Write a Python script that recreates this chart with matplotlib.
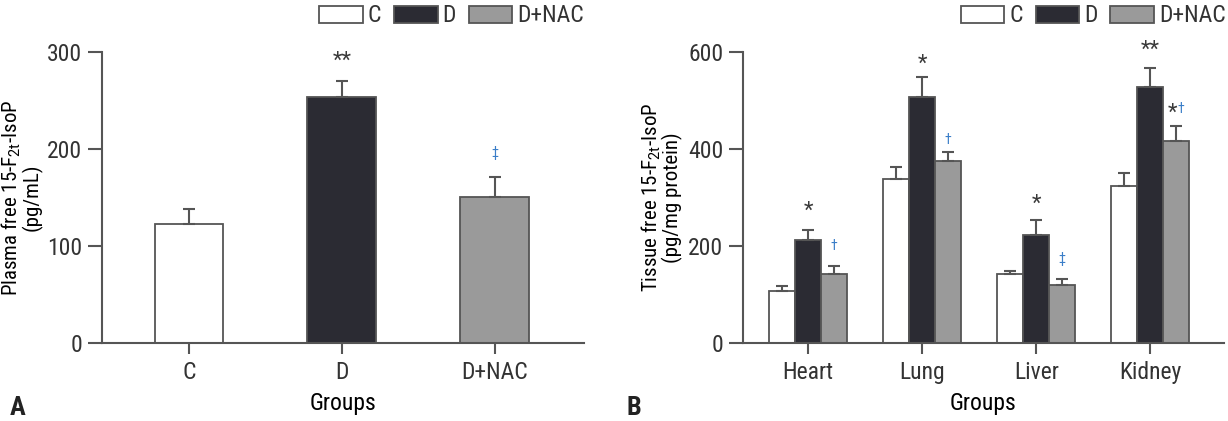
import matplotlib
matplotlib.use("Agg")
import matplotlib.pyplot as plt
from matplotlib.patches import Patch
import numpy as np

FONTS = ['Roboto Condensed', 'Liberation Sans Narrow', 'Open Sans Condensed', 'Roboto', 'DejaVu Sans']
plt.rcParams['font.family'] = FONTS
plt.rcParams['font.stretch'] = 'condensed'
plt.rcParams['mathtext.fontset'] = 'custom'
plt.rcParams['mathtext.rm'] = 'Roboto'
plt.rcParams['mathtext.it'] = 'Roboto'
plt.rcParams['text.color'] = '#333333'

# ---- data ----
series = ['C', 'D', 'D+NAC']
colors = ['#ffffff', '#2b2b33', '#9a9a9a']

plasma_groups = ['C', 'D', 'D+NAC']
plasma_mean = [122, 254, 150]
plasma_err = [16, 16, 21]

tissues = ['Heart', 'Lung', 'Liver', 'Kidney']
tissue_C = [107, 338, 141, 323]
tissue_C_err = [11, 25, 8, 27]
tissue_D = [213, 507, 223, 527]
tissue_D_err = [19, 41, 31, 39]
tissue_NAC = [142, 375, 119, 417]
tissue_NAC_err = [16, 19, 12, 30]

# annotations: (group index, text, color, y) / (group, series, text, color, y)
plasma_marks = [(1, '**', 'k', 290), (2, '\u2021', 'b', 196)]
tissue_marks = [
    (0, 1, '*', 'k', 272), (0, 2, '\u2020', 'b', 199),
    (1, 1, '*', 'k', 574), (1, 2, '\u2020', 'b', 419),
    (2, 1, '*', 'k', 286), (2, 2, '\u2021', 'b', 172),
    (3, 1, '**', 'k', 604), (3, 2, '*\u2020', 'kb', 474),
]

EDGE = '#555555'
BLUE = '#3b7ec8'
DARK = '#3a3a3a'
TICKFS = 17
LABFS = 15

W, H = 1228, 421
fig = plt.figure(figsize=(W / 100, H / 100), dpi=100)

def style_axes(ax, ymax, yticks):
    for s in ['top', 'right']:
        ax.spines[s].set_visible(False)
    for s in ['left', 'bottom']:
        ax.spines[s].set_color(EDGE)
        ax.spines[s].set_linewidth(1.5)
    ax.set_ylim(0, ymax)
    ax.set_yticks(yticks)
    ax.tick_params(axis='y', length=10, width=1.5, color=EDGE, labelsize=TICKFS,
                   labelcolor='#333333', pad=4)
    ax.tick_params(axis='x', length=8, width=1.5, color=EDGE, labelsize=TICKFS,
                   labelcolor='#333333', pad=5)
    ax.set_xlabel('Groups', fontsize=TICKFS, labelpad=6)

# ---- panel A ----
axA = fig.add_axes([101.7 / W, 78.3 / H, (584 - 101.7) / W, (369 - 78.3) / H])
xA = np.arange(len(plasma_groups))
axA.bar(xA, plasma_mean, width=0.45, color=colors, edgecolor=EDGE, linewidth=1.3,
        yerr=[np.zeros(len(xA)), plasma_err], capsize=4,
        error_kw=dict(ecolor=EDGE, elinewidth=1.5, capthick=1.5), zorder=2)
axA.set_xlim(-0.571, 2.584)
axA.set_xticks(xA)
axA.set_xticklabels(plasma_groups)
style_axes(axA, 300, [0, 100, 200, 300])
axA.set_ylabel('Plasma free 15-F$_{\\mathrm{2t}}$-IsoP\n(pg/mL)', fontsize=LABFS,
               linespacing=0.95)
axA.yaxis.set_label_coords(-0.122, 0.5)
for gi, txt, c, y in plasma_marks:
    axA.text(xA[gi], y, txt, ha='center', va='center',
             color=DARK if c == 'k' else BLUE,
             fontsize=16 if c == 'k' else 10, clip_on=False)

# ---- panel B ----
axB = fig.add_axes([742.7 / W, 78.3 / H, (1224 - 742.7) / W, (369 - 78.3) / H])
xB = np.arange(len(tissues))
bw = 0.228
vals = [tissue_C, tissue_D, tissue_NAC]
errs = [tissue_C_err, tissue_D_err, tissue_NAC_err]
for i in range(3):
    axB.bar(xB + (i - 1) * bw, vals[i], width=bw, color=colors[i], edgecolor=EDGE,
            linewidth=1.3, yerr=[np.zeros(len(xB)), errs[i]], capsize=4,
            error_kw=dict(ecolor=EDGE, elinewidth=1.5, capthick=1.5), zorder=2)
axB.set_xlim(-0.575, 3.646)
axB.set_xticks(xB)
axB.set_xticklabels(tissues)
style_axes(axB, 600, [0, 200, 400, 600])
axB.set_ylabel('Tissue free 15-F$_{\\mathrm{2t}}$-IsoP\n(pg/mg protein)', fontsize=LABFS,
               linespacing=0.95)
axB.yaxis.set_label_coords(-0.124, 0.5)
for gi, si, txt, c, y in tissue_marks:
    x = xB[gi] + (si - 1) * bw
    if c == 'kb':
        axB.text(x + 0.01, y, txt[0], ha='right', va='center', color=DARK,
                 fontsize=16, clip_on=False)
        axB.text(x + 0.01, y + 8, txt[1], ha='left', va='center', color=BLUE,
                 fontsize=10, clip_on=False)
    else:
        axB.text(x, y, txt, ha='center', va='center',
                 color=DARK if c == 'k' else BLUE,
                 fontsize=16 if c == 'k' else 10, clip_on=False)

# ---- legends ----
handles = [Patch(facecolor=colors[i], edgecolor=EDGE, linewidth=1.3, label=series[i])
           for i in range(3)]
for lx in (319 / W, 960.7 / W):
    fig.legend(handles=handles, loc='center left', bbox_to_anchor=(lx, 1 - 16 / H),
               ncol=3, frameon=False, fontsize=TICKFS, handlelength=1.85, handleheight=0.75,
               handletextpad=0.2, columnspacing=0.55, borderpad=0, borderaxespad=0)

# ---- panel letters ----
fig.text(10 / W, 1 - 408 / H, 'A', fontsize=19, fontweight='bold', va='center',
         color='#222222')
fig.text(626 / W, 1 - 408 / H, 'B', fontsize=19, fontweight='bold', va='center',
         color='#222222')

fig.savefig('out.png', dpi=100)
